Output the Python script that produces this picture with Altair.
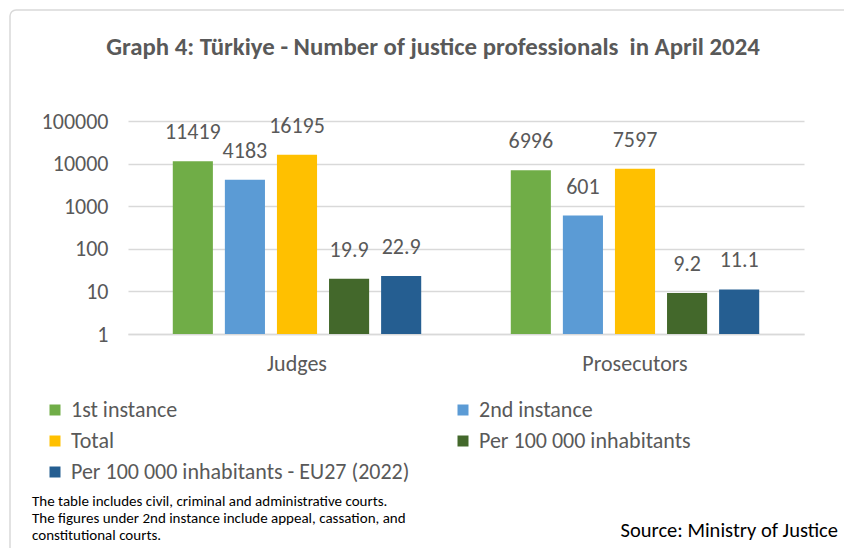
import altair as alt
import pandas as pd

categories = ["Judges", "Prosecutors"]
series = ["1st instance", "2nd instance", "Total", "Per 100 000 inhabitants",
          "Per 100 000 inhabitants - EU27 (2022)"]
judges = [11419, 4183, 16195, 19.9, 22.9]
prosecutors = [6996, 601, 7597, 9.2, 11.1]
labels_judges = ["11419", "4183", "16195", "19.9", "22.9"]
labels_prosecutors = ["6996", "601", "7597", "9.2", "11.1"]
colors = ["#70AD47", "#5B9BD5", "#FFC000", "#43682B", "#255E91"]
y_ticks = [1, 10, 100, 1000, 10000, 100000]

rows = []
for cat, vals, labs in [("Judges", judges, labels_judges), ("Prosecutors", prosecutors, labels_prosecutors)]:
    for i, (s, v, l) in enumerate(zip(series, vals, labs)):
        rows.append({"category": cat, "series": s, "order": i, "value": v, "label": l, "base": 1})
df = pd.DataFrame(rows)

# legend is laid out column by column; order entries so it reads row by row
legend_order = [0, 2, 4, 1, 3]
legend_domain = [series[i] for i in legend_order]
legend_range = [colors[i] for i in legend_order]

FONT = "Carlito, Lato, sans-serif"
GREY = "#595959"
GRID = "#d9d9d9"

x = alt.X("category:N", sort=categories, title=None,
          scale=alt.Scale(paddingInner=0, paddingOuter=0),
          axis=alt.Axis(labelAngle=0, labelFontSize=22, labelColor=GREY, labelFont=FONT, grid=False,
                        ticks=False, domainColor=GRID, domainWidth=1.5, labelPadding=19))
xo = alt.XOffset("series:N", sort=series, scale=alt.Scale(paddingInner=0.23, paddingOuter=0.86))
y = alt.Y("value:Q", title=None,
          scale=alt.Scale(type="log", domain=[1, 100000]),
          axis=alt.Axis(values=y_ticks, format="d", labelFontSize=22, labelColor=GREY, labelFont=FONT,
                        ticks=False, domain=False, gridColor=GRID, gridWidth=1.5, labelPadding=20))

base = alt.Chart(df)
bars = base.mark_bar().encode(
    x=x, xOffset=xo, y=y, y2="base:Q",
    color=alt.Color("series:N", title=None,
                    scale=alt.Scale(domain=legend_domain, range=legend_range),
                    legend=alt.Legend(orient="none", legendX=-84, legendY=278, columns=2,
                                      symbolType="square", symbolSize=121, symbolStrokeWidth=0,
                                      labelFontSize=22, labelColor=GREY, labelFont=FONT,
                                      rowPadding=9, columnPadding=42, gridAlign="each",
                                      labelLimit=500, labelOffset=5)),
)
texts = base.mark_text(baseline="bottom", dy=-17, fontSize=22, color=GREY, font=FONT).encode(
    x=x, xOffset=xo, y=y, text="label:N")

frame = alt.Chart(alt.Data(values=[{"a": 1}])).mark_rect(
    fill="transparent", stroke=GRID, strokeWidth=1.5, cornerRadius=6).encode(
    x=alt.value(-118), x2=alt.value(800), y=alt.value(-111), y2=alt.value(520))

title = alt.Chart(alt.Data(values=[{"a": 1}])).mark_text(
    align="center", baseline="middle", fontSize=24.8, font=FONT, fontWeight="bold", color=GREY).encode(
    x=alt.value(305), y=alt.value(-73),
    text=alt.value("Graph 4: Türkiye - Number of justice professionals\u00a0 in April 2024"))

note = alt.Chart(alt.Data(values=[{"a": 1}])).mark_text(
    align="left", baseline="middle", fontSize=15, font=FONT, color="#000000", lineHeight=17).encode(
    x=alt.value(-96), y=alt.value(380),
    text=alt.value(["The table includes civil, criminal and administrative courts.",
                    "The figures under 2nd instance include appeal, cassation, and",
                    "\u00a0constitutional courts."]))
source = alt.Chart(alt.Data(values=[{"a": 1}])).mark_text(
    align="right", baseline="middle", fontSize=20.5, font=FONT, color="#000000").encode(
    x=alt.value(710), y=alt.value(410), text=alt.value("Source: Ministry of Justice"))

chart = alt.layer(frame, title, bars, texts, note, source).properties(
    width=676, height=213,
    autosize=alt.AutoSizeParams(type="none"),
    padding={"left": 120, "top": 113, "right": 40, "bottom": 214},
).configure(background="white", view=alt.ViewConfig(stroke="transparent", strokeWidth=0))

chart.save("out.html", embed_options={"renderer": "svg", "actions": False})
